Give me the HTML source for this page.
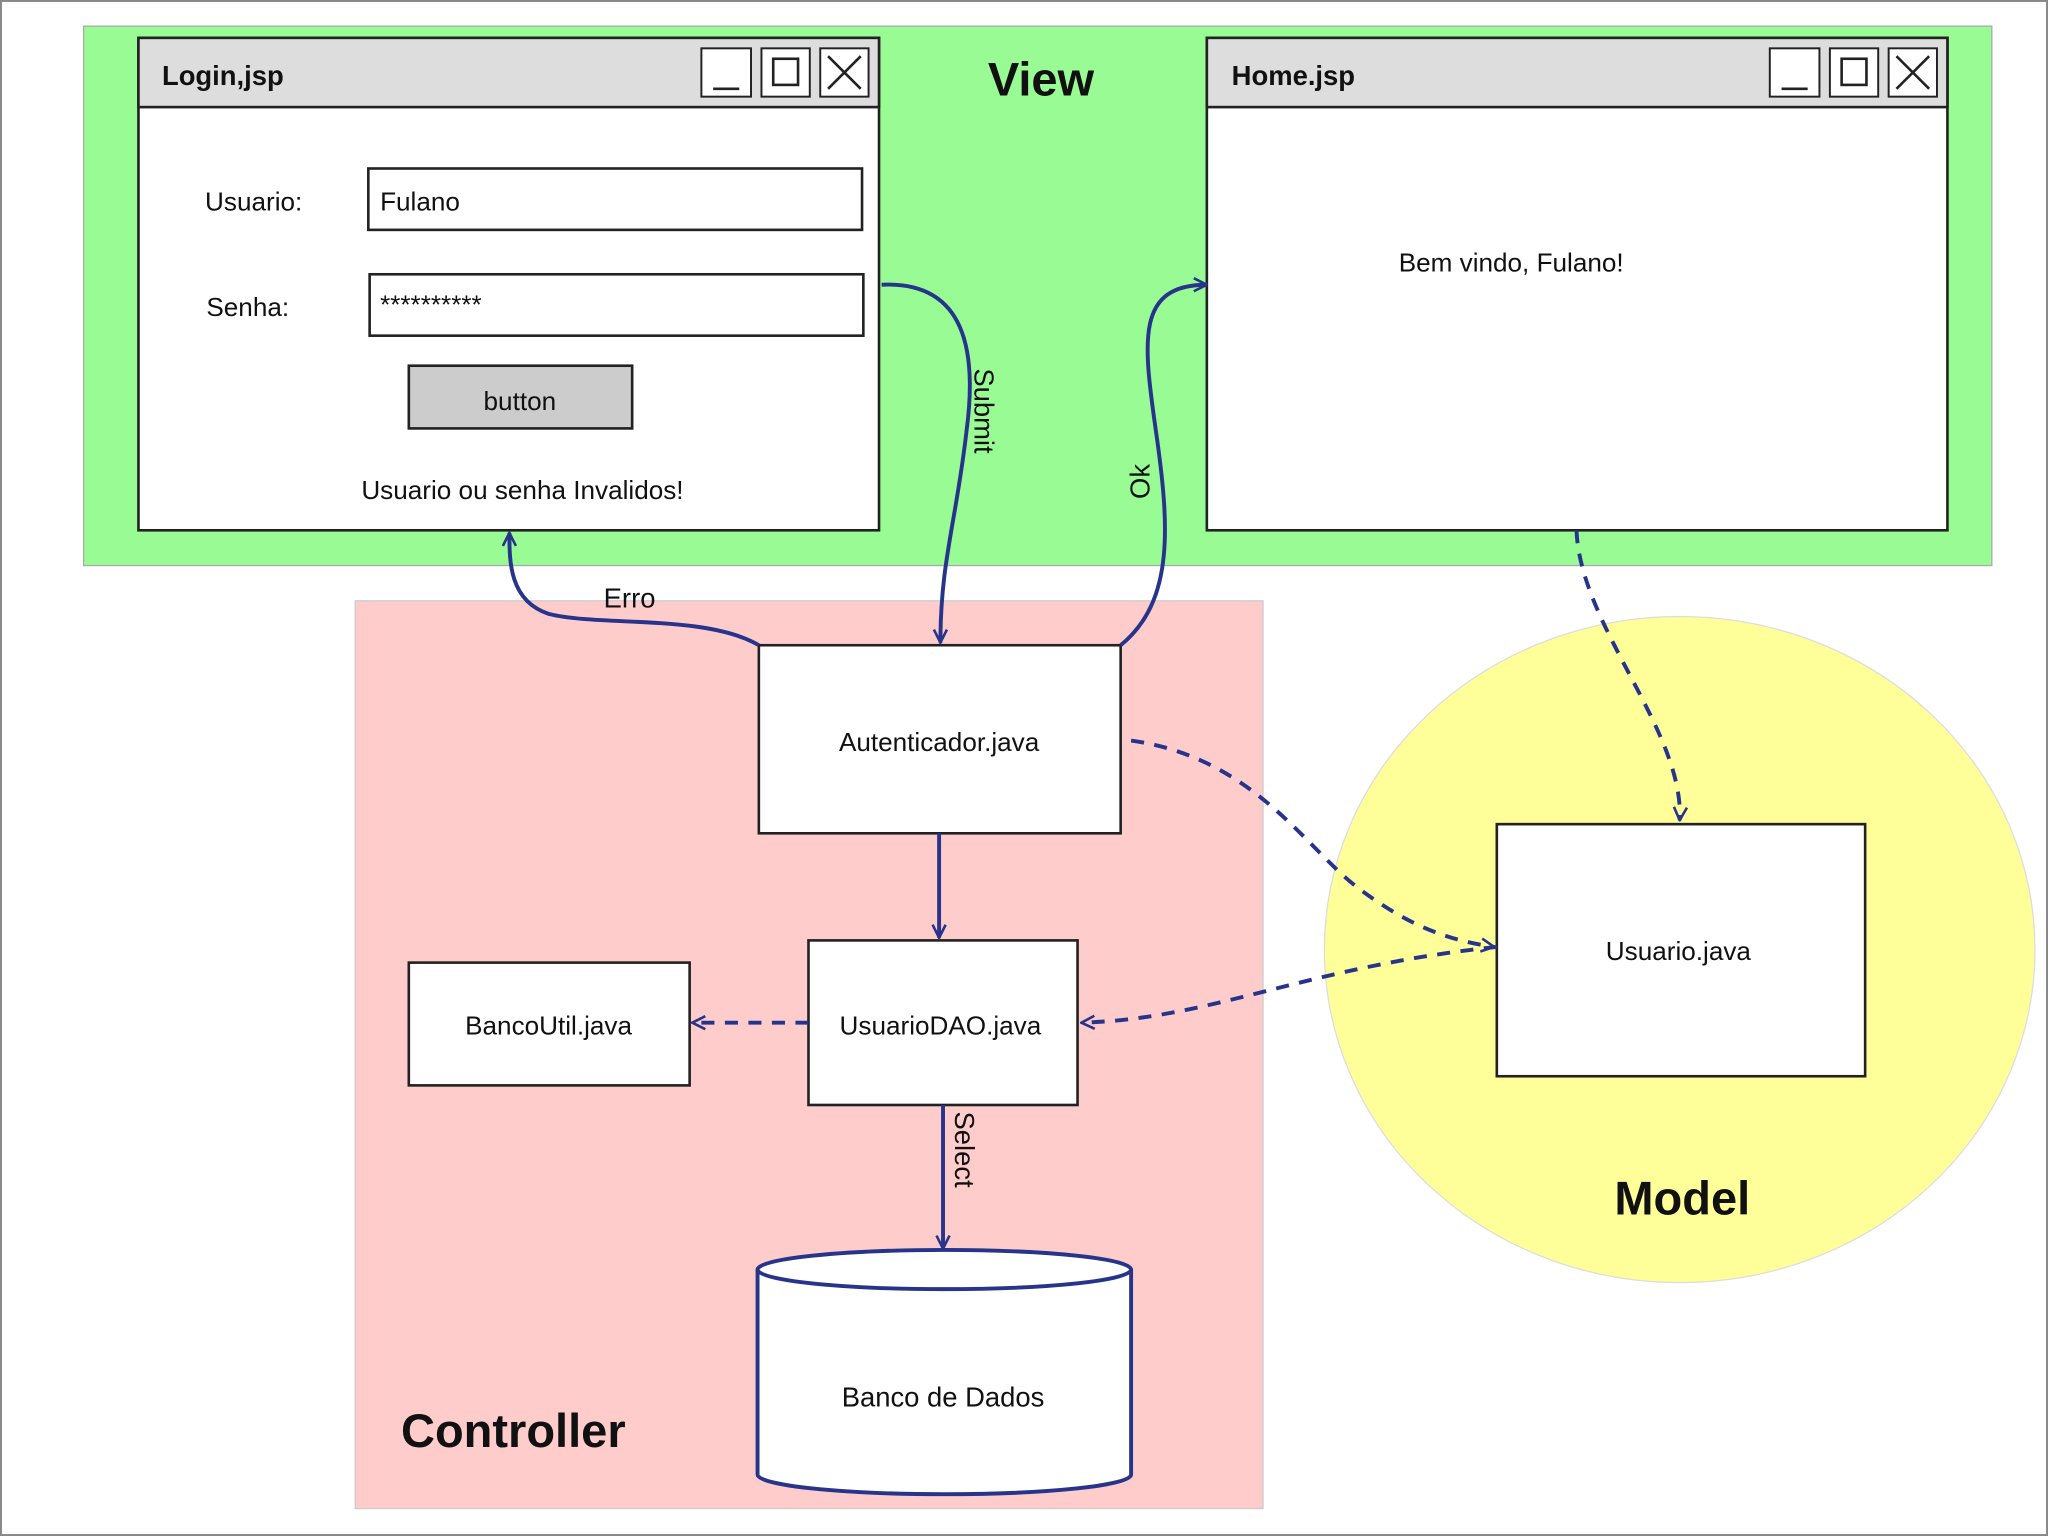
<!DOCTYPE html>
<html><head><meta charset="utf-8"><style>
html,body{margin:0;padding:0;background:#fff;}
svg{display:block;}
text{font-family:"Liberation Sans",sans-serif;fill:#111;}
</style></head><body>
<svg width="2048" height="1536" viewBox="0 0 1568 1176" preserveAspectRatio="none" xmlns="http://www.w3.org/2000/svg">
<defs>
<marker id="a" viewBox="0 0 12 12" refX="11" refY="6" markerWidth="12" markerHeight="12" markerUnits="userSpaceOnUse" orient="auto">
<path d="M1,1 L11,6 L1,11" fill="none" stroke="#27348b" stroke-width="2"/>
</marker>
</defs>
<rect x="0.5" y="0.5" width="1567" height="1175" fill="#fff" stroke="#888" stroke-width="2"/>
<rect x="64" y="20" width="1461" height="413" fill="#99fb94" stroke="#aaa"/>
<rect x="272" y="460" width="695" height="695" fill="#ffcccc" stroke="#ccc"/>
<ellipse cx="1286" cy="727" rx="272" ry="255" fill="#ffff99" stroke="#ddd"/>

<!-- Login window -->
<rect x="106" y="29" width="567" height="377" fill="#fff" stroke="#222" stroke-width="2"/>
<rect x="106" y="29" width="567" height="53" fill="#ddd" stroke="#222" stroke-width="2"/>
<text x="124" y="65" font-size="21" font-weight="bold">Login,jsp</text>
<g fill="#fff" stroke="#222" stroke-width="1.5">
<rect x="537" y="37" width="38" height="37"/><rect x="583" y="37" width="37" height="37"/><rect x="628" y="37" width="37" height="37"/>
</g>
<g stroke="#222" stroke-width="2" fill="none">
<line x1="546" y1="68" x2="566" y2="68"/><rect x="592" y="45" width="19" height="20"/><line x1="634" y1="43" x2="659" y2="68"/><line x1="659" y1="43" x2="634" y2="68"/>
</g>
<text x="157" y="161" font-size="20">Usuario:</text>
<rect x="282" y="129" width="378" height="47" fill="#fff" stroke="#222" stroke-width="2"/>
<text x="291" y="161" font-size="20">Fulano</text>
<text x="158" y="242" font-size="20">Senha:</text>
<rect x="283" y="210" width="378" height="47" fill="#fff" stroke="#222" stroke-width="2"/>
<text x="291" y="240" font-size="20">**********</text>
<rect x="313" y="280" width="171" height="48" fill="#ccc" stroke="#222" stroke-width="2"/>
<text x="398" y="314" font-size="20" text-anchor="middle">button</text>
<text x="400" y="382" font-size="20" text-anchor="middle">Usuario ou senha Invalidos!</text>

<text x="797" y="73" font-size="36" font-weight="bold" text-anchor="middle">View</text>

<!-- Home window -->
<rect x="924" y="29" width="567" height="377" fill="#fff" stroke="#222" stroke-width="2"/>
<rect x="924" y="29" width="567" height="53" fill="#ddd" stroke="#222" stroke-width="2"/>
<text x="943" y="65" font-size="21" font-weight="bold">Home.jsp</text>
<g fill="#fff" stroke="#222" stroke-width="1.5">
<rect x="1355" y="37" width="38" height="37"/><rect x="1401" y="37" width="37" height="37"/><rect x="1446" y="37" width="37" height="37"/>
</g>
<g stroke="#222" stroke-width="2" fill="none">
<line x1="1364" y1="68" x2="1384" y2="68"/><rect x="1410" y="45" width="19" height="20"/><line x1="1452" y1="43" x2="1477" y2="68"/><line x1="1477" y1="43" x2="1452" y2="68"/>
</g>
<text x="1157" y="208" font-size="20" text-anchor="middle">Bem vindo, Fulano!</text>

<!-- Controller boxes -->
<rect x="581" y="494" width="277" height="144" fill="#fff" stroke="#222" stroke-width="2"/>
<text x="719" y="575" font-size="20" text-anchor="middle">Autenticador.java</text>
<rect x="619" y="720" width="206" height="126" fill="#fff" stroke="#222" stroke-width="2"/>
<text x="720" y="792" font-size="20" text-anchor="middle">UsuarioDAO.java</text>
<rect x="313" y="737" width="215" height="94" fill="#fff" stroke="#222" stroke-width="2"/>
<text x="420" y="792" font-size="20" text-anchor="middle">BancoUtil.java</text>
<rect x="1146" y="631" width="282" height="193" fill="#fff" stroke="#222" stroke-width="2"/>
<text x="1285" y="735" font-size="20" text-anchor="middle">Usuario.java</text>

<!-- Cylinder -->
<path d="M580,972 L580,1129 A143,15 0 0 0 866,1129 L866,972" fill="#fff" stroke="#27348b" stroke-width="3"/>
<ellipse cx="723" cy="972" rx="143" ry="15" fill="#fff" stroke="#27348b" stroke-width="3"/>
<text x="722" y="1077" font-size="21" text-anchor="middle">Banco de Dados</text>

<text x="393" y="1108" font-size="36" font-weight="bold" text-anchor="middle">Controller</text>
<text x="1288" y="930" font-size="36" font-weight="bold" text-anchor="middle">Model</text>

<!-- Connectors -->
<g fill="none" stroke="#27348b" stroke-width="3">
<path d="M675,218 C740,215 748,270 740,330 C732,400 720,430 720,492" marker-end="url(#a)"/>
<path d="M858,494 C900,460 895,400 885,330 C875,260 870,218 924,218" marker-end="url(#a)"/>
<path d="M581,494 C540,470 460,480 420,470 C390,460 390,430 390,408" marker-end="url(#a)"/>
<path d="M719,638 L719,718" marker-end="url(#a)"/>
<path d="M722,846 L722,956" marker-end="url(#a)"/>
<g stroke-dasharray="10,8">
<path d="M619,783 L530,783" marker-end="url(#a)"/>
<path d="M866,567 C960,580 1000,650 1040,680 C1080,710 1110,720 1144,725" marker-end="url(#a)"/>
<path d="M1146,725 C1000,740 930,780 828,783" marker-end="url(#a)"/>
<path d="M1207,406 C1210,480 1290,560 1286,628" marker-end="url(#a)"/>
</g>
</g>
<text x="0" y="0" font-size="21" transform="translate(746,282) rotate(90)">Submit</text>
<text x="0" y="0" font-size="21" transform="translate(880,382) rotate(-90)">Ok</text>
<text x="482" y="465" font-size="21" text-anchor="middle">Erro</text>
<text x="0" y="0" font-size="21" transform="translate(731,851) rotate(90)">Select</text>
</svg>
</body></html>
